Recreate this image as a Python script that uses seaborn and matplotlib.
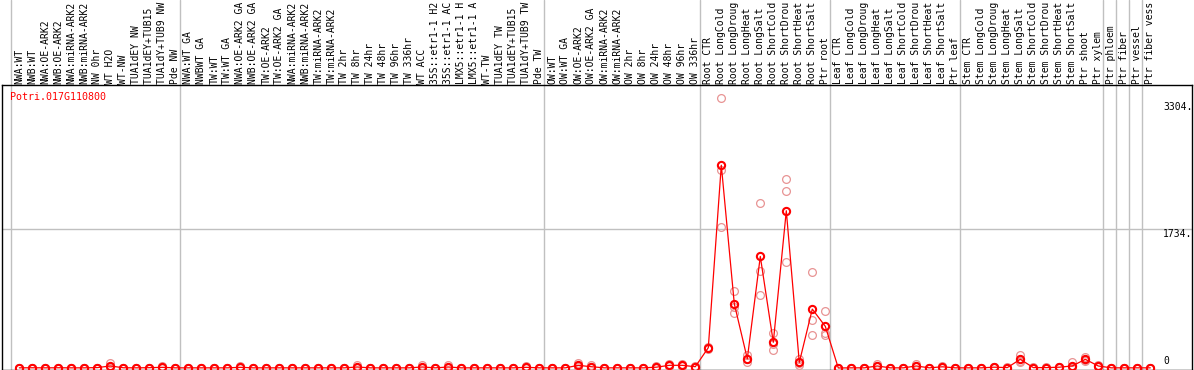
import numpy as np
import pandas as pd
import matplotlib
matplotlib.use("Agg")
import matplotlib.pyplot as plt
import seaborn as sns
from matplotlib.transforms import blended_transform_factory

gene = "Potri.017G110800"

categories = [
    # group 1
    "NWA:WT", "NWB:WT", "NWA:OE-ARK2", "NWB:OE-ARK2", "NWA:miRNA-ARK2", "NWB:miRNA-ARK2",
    "NW 0hr", "WT H2O", "WT-NW", "TUA1dEY NW", "TUA1dEY+TUB15 NW", "TUA1dY+TUB9 NW", "Pde NW",
    # group 2
    "NWA:WT GA", "NWBWT GA", "TW:WT", "TW:WT GA", "NWA:OE-ARK2 GA", "NWB:OE-ARK2 GA",
    "TW:OE-ARK2", "TW:OE-ARK2 GA", "NWA:miRNA-ARK2", "NWB:miRNA-ARK2", "TW:miRNA-ARK2",
    "TW:miRNA-ARK2", "TW 2hr", "TW 8hr", "TW 24hr", "TW 48hr", "TW 96hr", "TW 336hr", "WT ACC",
    "35S::etr1-1 H2O", "35S::etr1-1 ACC", "LMX5::etr1-1 H2O", "LMX5::etr1-1 ACC", "WT-TW",
    "TUA1dEY TW", "TUA1dEY+TUB15 TW", "TUA1dY+TUB9 TW", "Pde TW",
    # group 3
    "OW:WT", "OW:WT GA", "OW:OE-ARK2", "OW:OE-ARK2 GA", "OW:miRNA-ARK2", "OW:miRNA-ARK2",
    "OW 2hr", "OW 8hr", "OW 24hr", "OW 48hr", "OW 96hr", "OW 336hr",
    # group 4
    "Root CTR", "Root LongCold", "Root LongDrought", "Root LongHeat", "Root LongSalt",
    "Root ShortCold", "Root ShortDrought", "Root ShortHeat", "Root ShortSalt", "Ptr root",
    # group 5
    "Leaf CTR", "Leaf LongCold", "Leaf LongDrought", "Leaf LongHeat", "Leaf LongSalt",
    "Leaf ShortCold", "Leaf ShortDrought", "Leaf ShortHeat", "Leaf ShortSalt", "Ptr leaf",
    # group 6
    "Stem CTR", "Stem LongCold", "Stem LongDrought", "Stem LongHeat", "Stem LongSalt",
    "Stem ShortCold", "Stem ShortDrought", "Stem ShortHeat", "Stem ShortSalt", "Ptr shoot",
    "Ptr xylem",
    # singles
    "Ptr phloem", "Ptr fiber", "Ptr vessel", "Ptr fiber vessel",
]

rep1 = [3, 4, 3, 4, 3, 3, 6, 62, 4, 3, 5, 25, 3,
        3, 3, 3, 3, 25, 3, 3, 3, 3, 3, 3, 3, 3, 33, 3, 3, 3, 3, 33, 3, 33, 3, 3, 3, 3, 3, 25, 3,
        3, 3, 62, 33, 3, 3, 3, 3, 25, 45, 50, 25,
        265, 3355, 954, 158, 2049, 432, 2351, 108, 1194, 709,
        1, 3, 3, 45, 3, 3, 45, 3, 30, 3,
        3, 3, 15, 8, 161, 8, 8, 15, 71, 140, 40,
        3, 3, 3, 3]
rep2 = [2, 3, 2, 3, 2, 2, 5, 8, 3, 2, 4, 0, 2,
        2, 2, 2, 2, 0, 2, 2, 2, 2, 2, 2, 2, 2, 2, 2, 2, 2, 2, 2, 2, 2, 2, 2, 2, 2, 2, 0, 2,
        2, 2, 25, 10, 2, 2, 2, 2, 3, 30, 30, 15,
        253, 2463, 763, 108, 1210, 224, 2198, 66, 597, 439,
        0, 2, 2, 20, 2, 2, 20, 2, 10, 2,
        2, 2, 10, 5, 93, 5, 5, 10, 5, 95, 25,
        2, 2, 2, 2]
rep3 = [1, 2, 1, 2, 1, 1, 4, 5, 2, 1, 3, 0, 1,
        1, 1, 1, 1, 0, 1, 1, 1, 1, 1, 1, 1, 1, 2, 1, 1, 1, 1, 2, 1, 2, 1, 1, 1, 1, 1, 0, 1,
        1, 1, 12, 5, 1, 1, 1, 1, 2, 25, 20, 8,
        240, 1750, 680, 78, 904, 304, 1319, 34, 407, 407,
        0, 1, 1, 10, 1, 1, 10, 1, 5, 1,
        1, 1, 5, 2, 70, 2, 2, 5, 0, 90, 10,
        1, 1, 1, 1]

group_starts = [0, 13, 41, 53, 63, 73, 84, 85, 86, 87]
tick_values = [3304, 1734, 0]
tick_labels = ["3304.", "1734.", "0"]
grid_value = 1734

rows = []
for r, vals in enumerate([rep1, rep2, rep3]):
    for i, v in enumerate(vals):
        rows.append({"idx": i, "value": v, "rep": r, "cat": categories[i]})
df = pd.DataFrame(rows)

sns.set_style("white")
plt.rcParams["font.family"] = ["DejaVu Sans Mono"]

W, H = 1194, 370
fig = plt.figure(figsize=(W / 100, H / 100), dpi=100)
top_px, bot_px, left_px, right_px = 85, 369.5, 1.7, 1192
ax = fig.add_axes([left_px / W, (H - bot_px) / H, (right_px - left_px) / W, (bot_px - top_px) / H])

pink = "#E89494"
red = "#FF0000"
mono = "DejaVu Sans Mono"

# replicate points
sns.lineplot(data=df, x="idx", y="value", units="rep", estimator=None, color=pink,
             linestyle="none", marker="o", markersize=5.6, markerfacecolor="none",
             markeredgecolor=pink, markeredgewidth=0.9, ax=ax, legend=False, zorder=3)
# mean line
sns.lineplot(data=df, x="idx", y="value", estimator="mean", errorbar=None, color=red,
             linewidth=0.9, marker="o", markersize=5.2, markerfacecolor="none",
             markeredgecolor=red, markeredgewidth=1.5, ax=ax, legend=False, zorder=4)

xmin = (left_px - 19.3) / 13
xmax = (right_px - 19.3) / 13
units_per_px = 12.44
ax.set_xlim(xmin, xmax)
ax.set_ylim(-(bot_px - 368) * units_per_px, (368 - top_px) * units_per_px)
ax.set_xticks([])
ax.set_yticks([])
ax.set_xlabel("")
ax.set_ylabel("")
for sp in ax.spines.values():
    sp.set_color("black")
    sp.set_linewidth(1.0)

ax.axhline(grid_value, color="#C0C0C0", lw=1.0, zorder=1)
frac_top = bot_px / (bot_px - top_px)
for s in group_starts:
    ax.axvline(s - 0.62, ymin=0, ymax=frac_top, color="#C0C0C0", lw=1.0,
               clip_on=False, zorder=1)

# header labels: only the first 14 characters fit in the header band
trans_lab = blended_transform_factory(ax.transData, fig.transFigure)
for i, lab in enumerate(categories):
    ax.text(i, (H - 83.5) / H, lab[:14], transform=trans_lab, rotation=90, ha="center",
            va="bottom", fontsize=7, family=mono, color="black", clip_on=False)

trans_tick = blended_transform_factory(fig.transFigure, ax.transData)
for v, t in zip(tick_values, tick_labels):
    if v == 0:
        ax.text(1163 / W, v + 30, t, transform=trans_tick, ha="left", va="bottom",
                fontsize=7, family=mono, color="black")
    else:
        ax.text(1163 / W, v, t, transform=trans_tick, ha="left", va="top",
                fontsize=7, family=mono, color="black")

fig.text(10 / W, (H - 97) / H, gene, color=red, ha="left", va="center",
         fontsize=7.2, family=mono)

fig.savefig("out.png", dpi=100)
